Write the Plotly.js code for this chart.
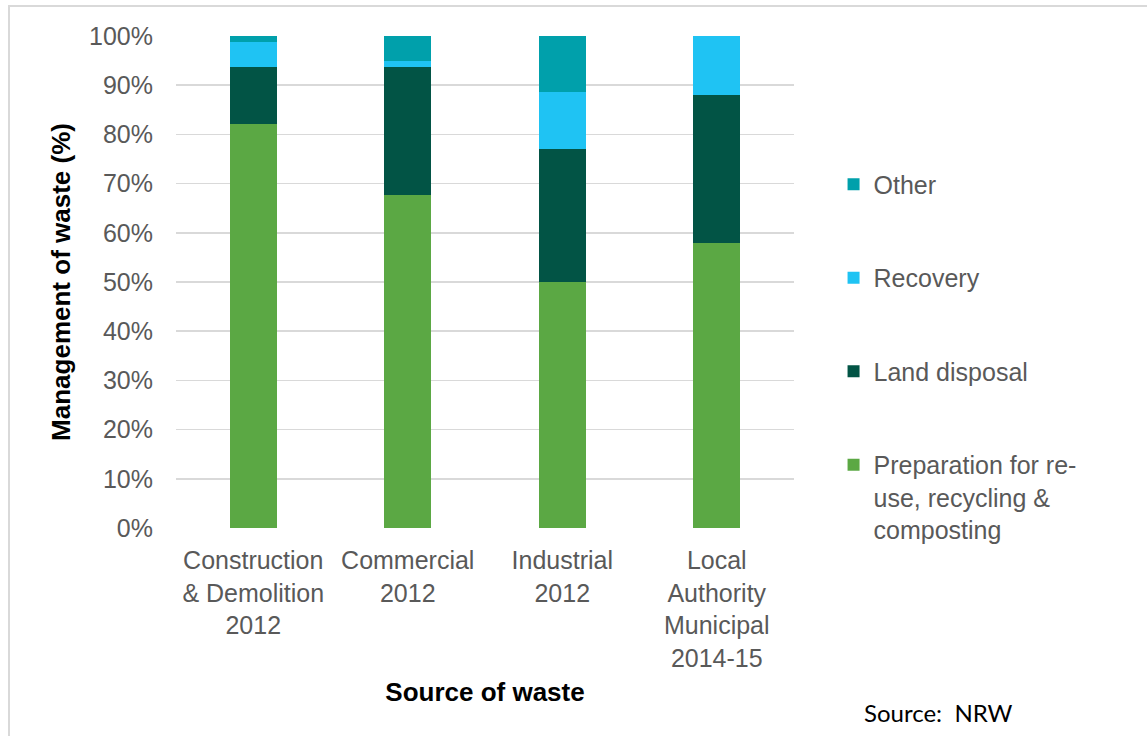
<!DOCTYPE html>
<html>
<head>
<meta charset="utf-8">
<script src="https://cdn.plot.ly/plotly-3.0.1.min.js"></script>
<style>
  html, body { margin: 0; padding: 0; background: #ffffff; }
  #frame { position: absolute; left: 8px; top: 5px; width: 1200px; height: 800px;
           border-left: 2px solid #d9d9d9; border-top: 2px solid #d9d9d9; box-sizing: border-box; }
  #chart { position: absolute; left: 0; top: 0; width: 1147px; height: 736px; }
</style>
</head>
<body>
<div id="frame"></div>
<div id="chart"></div>
<script>
const categories = [
  "Construction<br>& Demolition<br>2012",
  "Commercial<br>2012",
  "Industrial<br>2012",
  "Local<br>Authority<br>Municipal<br>2014-15"
];
const preparation = [82.1, 67.7, 50.0, 58.0];
const landDisposal = [11.7, 25.9, 27.0, 30.1];
const recovery = [5.0, 1.3, 11.6, 11.9];
const other = [1.2, 5.1, 11.4, 0];
const yTickVals = [0, 10, 20, 30, 40, 50, 60, 70, 80, 90, 100];
const yTickText = ["0%", "10%", "20%", "30%", "40%", "50%", "60%", "70%", "80%", "90%", "100%"];

const labelFont = {family: "Liberation Sans, Arial, sans-serif", size: 25, color: "#595959"};

function bar(name, vals, color, group, rank) {
  return {
    type: "bar", name: name, x: categories, y: vals,
    marker: {color: color, line: {width: 0}},
    legendgroup: group, legendrank: rank, hoverinfo: "skip"
  };
}

const data = [
  bar("Preparation for re-<br>use, recycling &<br>composting", preparation, "#5ba844", "g1", 4),
  bar("Land disposal", landDisposal, "#025445", "g2", 3),
  bar("Recovery", recovery, "#1fc3f3", "g3", 2),
  bar("Other", other, "#00a0ab", "g4", 1)
];

const layout = {
  width: 1147, height: 736,
  paper_bgcolor: "rgba(0,0,0,0)", plot_bgcolor: "rgba(0,0,0,0)",
  margin: {l: 176, r: 353, t: 36, b: 208},
  barmode: "stack",
  bargap: 0.695,
  font: labelFont,
  xaxis: {
    type: "category",
    tickfont: labelFont,
    showgrid: false, zeroline: false, showline: false,
    ticks: "", ticklabelstandoff: 15,
    title: {text: "<b>Source of waste</b>", font: {family: "Liberation Sans, Arial, sans-serif", size: 26, color: "#000000"}, standoff: 12}
  },
  yaxis: {
    range: [0, 100],
    tickvals: yTickVals, ticktext: yTickText,
    tickfont: labelFont,
    showgrid: true, gridcolor: "#d9d9d9", gridwidth: 1.5,
    zeroline: false, showline: false, ticks: "",
    ticklabelstandoff: 22,
    title: {text: "<b>Management of waste (%)</b>", font: {family: "Liberation Sans, Arial, sans-serif", size: 26, color: "#000000"}, standoff: 10}
  },
  legend: {
    x: 1.064, xanchor: "left", y: 0.745, yanchor: "top",
    traceorder: "grouped",
    tracegroupgap: 58,
    valign: "top",
    font: labelFont,
    bgcolor: "rgba(0,0,0,0)"
  },
  annotations: [{
    text: "Source:  NRW", xref: "paper", yref: "paper",
    x: 1.11, y: -0.374, xanchor: "left", yanchor: "middle", showarrow: false,
    font: {family: "Lato, Open Sans, sans-serif", size: 24, color: "#000000"}
  }]
};

Plotly.newPlot("chart", data, layout, {staticPlot: true, displayModeBar: false});
</script>
</body>
</html>
